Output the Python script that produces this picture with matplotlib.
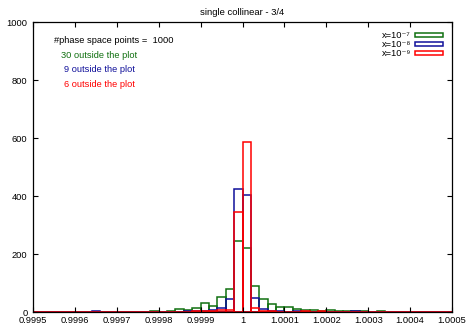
import numpy as np
import matplotlib
matplotlib.use('Agg')
import matplotlib.pyplot as plt
from matplotlib.patches import Rectangle

plt.rcParams.update({
    'font.family': ['Liberation Sans', 'DejaVu Sans'],
    'font.size': 6.7,
    'axes.linewidth': 0.9,
    'xtick.direction': 'in',
    'ytick.direction': 'in',
    'xtick.top': True,
    'ytick.right': True,
    'xtick.major.size': 3.5,
    'ytick.major.size': 3.5,
})

# bins of width 2e-5 from 0.9995 to 1.0005
bin_width = 2e-5
bin_left = np.round(0.9995 + bin_width * np.arange(50), 5)

counts_1e7 = [1, 0, 1, 0, 1, 0, 1, 0, 1, 0,
              1, 1, 1, 1, 2, 1, 3, 9, 8, 14,
              30, 22, 53, 78, 245, 222, 91, 44, 29, 16,
              17, 11, 6, 6, 3, 7, 3, 3, 2, 2,
              1, 2, 1, 1, 1, 0, 1, 0, 1, 0]
counts_1e8 = [0, 0, 0, 0, 0, 0, 0, 2, 0, 0,
              0, 0, 0, 1, 0, 0, 0, 1, 2, 3,
              5, 6, 14, 44, 425, 405, 47, 11, 3, 2,
              1, 3, 1, 0, 0, 0, 0, 0, 2, 0,
              0, 0, 0, 0, 0, 0, 1, 0, 0, 0]
counts_1e9 = [0, 0, 0, 0, 0, 0, 0, 0, 0, 0,
              0, 1, 0, 0, 0, 0, 0, 0, 1, 2,
              3, 3, 6, 8, 345, 585, 14, 3, 2, 1,
              0, 0, 3, 0, 2, 0, 0, 0, 0, 0,
              0, 0, 0, 0, 0, 0, 0, 0, 0, 0]

series = [
    ('x=10⁻⁷', counts_1e7, '#107010', '30 outside the plot'),
    ('x=10⁻⁸', counts_1e8, '#10109a', '9 outside the plot'),
    ('x=10⁻⁹', counts_1e9, '#ff0000', '6 outside the plot'),
]
n_points = 1000

xticks = [0.9995, 0.9996, 0.9997, 0.9998, 0.9999, 1.0,
          1.0001, 1.0002, 1.0003, 1.0004, 1.0005]
xticklabels = ['0.9995', '0.9996', '0.9997', '0.9998', '0.9999', '1',
               '1.0001', '1.0002', '1.0003', '1.0004', '1.0005']
yticks = [0, 200, 400, 600, 800, 1000]

fig = plt.figure(figsize=(4.69, 3.26), dpi=100)
ax = fig.add_axes([33/469, 14/326, 419/469, 290/326])

handles = []
for label, cnt, col, _ in series:
    ax.bar(bin_left, cnt, width=bin_width, align='edge', fill=False,
           edgecolor=col, lw=1.1)
    handles.append(Rectangle((0, 0), 1, 1, fill=False, edgecolor=col, lw=1.1, label=label))

ax.set_xlim(0.9995, 1.0005)
ax.set_ylim(0, 1000)
ax.set_xticks(xticks)
ax.set_xticklabels(xticklabels)
ax.set_yticks(yticks)
ax.tick_params(axis='x', pad=3)
ax.tick_params(axis='y', pad=4)

ax.set_title('single collinear - 3/4', fontsize=6.8, pad=5)

ax.text(0.05, 0.936, f'#phase space points =  {n_points}', transform=ax.transAxes,
        ha='left', va='center')
for i, (_, _, col, txt) in enumerate(series):
    ax.text(0.066 + (0.007 if i else 0), 0.886 - i * 0.05, txt, color=col,
            transform=ax.transAxes, ha='left', va='center')

ax.legend(handles=handles, loc='upper right', frameon=False, markerfirst=False,
          handlelength=3.0, handleheight=0.4, labelspacing=0.0,
          borderaxespad=0.6, handletextpad=0.4, fontsize=6.7)

fig.savefig('out.png', dpi=100, facecolor='white')
